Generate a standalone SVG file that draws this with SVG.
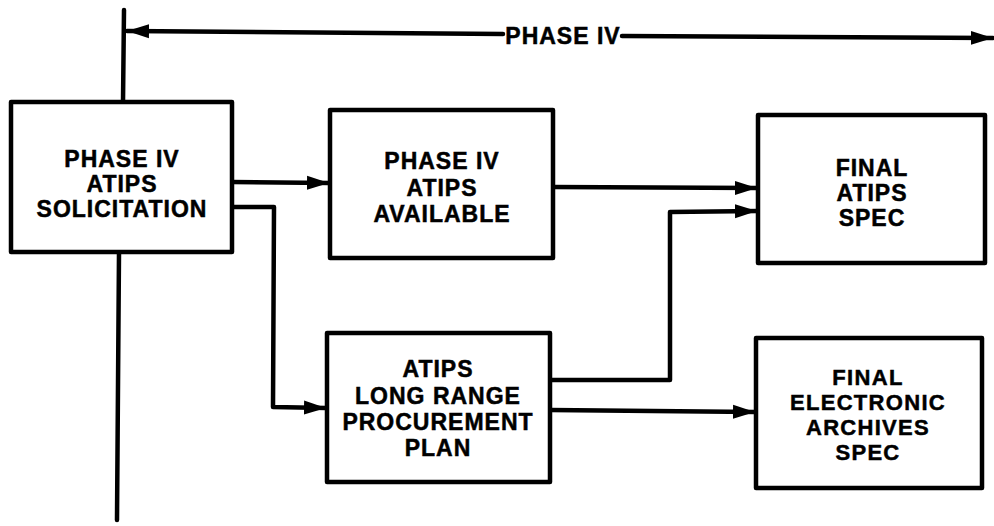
<svg xmlns="http://www.w3.org/2000/svg" width="994" height="526" viewBox="0 0 994 526">
<style>
.box{fill:#fff;stroke:#000;stroke-width:4.5;stroke-linejoin:round}
.lbl{font-family:"Liberation Sans",Arial,sans-serif;font-weight:bold;font-size:23px;letter-spacing:1px;text-anchor:middle;fill:#000;stroke:#000;stroke-width:0.5}
.sm{font-size:22px;letter-spacing:1.3px}
.ln{fill:none;stroke:#000;stroke-width:4.5;stroke-linejoin:round;stroke-linecap:round}
</style>
<defs>
<marker id="ah" markerUnits="userSpaceOnUse" markerWidth="24" markerHeight="16" refX="22" refY="8" orient="auto">
<path d="M0,1 L22,8 L0,15 Z" fill="#000"/>
</marker>
</defs>
<rect width="994" height="526" fill="#fff"/>
<g id="connectors">
<line class="ln" x1="124" y1="10" x2="123" y2="102"/>
<line class="ln" x1="119" y1="252" x2="117" y2="520"/>
<line class="ln" x1="503" y1="34" x2="127" y2="31" marker-end="url(#ah)"/>
<line class="ln" x1="622" y1="36" x2="993" y2="38" marker-end="url(#ah)"/>
<polyline class="ln" points="232,182 329,183" marker-end="url(#ah)"/>
<polyline class="ln" points="232,207 274,207 273,407 326,408" marker-end="url(#ah)"/>
<polyline class="ln" points="553,187 757,188" marker-end="url(#ah)"/>
<polyline class="ln" points="550,380 670,380 670,212 757,211" marker-end="url(#ah)"/>
<polyline class="ln" points="550,410 755,412" marker-end="url(#ah)"/>
</g>
<g id="phase-label">
<text class="lbl" x="563" y="44">PHASE IV</text>
</g>
<g id="n1">
<rect class="box" x="11" y="102" width="221" height="150"/>
<text class="lbl" x="122" y="167">PHASE IV</text>
<text class="lbl" x="122" y="192">ATIPS</text>
<text class="lbl" x="122" y="217">SOLICITATION</text>
</g>
<g id="n2">
<rect class="box" x="330" y="110" width="223" height="148"/>
<text class="lbl" x="442" y="169">PHASE IV</text>
<text class="lbl" x="442" y="196">ATIPS</text>
<text class="lbl" x="442" y="222">AVAILABLE</text>
</g>
<g id="n3">
<rect class="box" x="758" y="115" width="227" height="148"/>
<text class="lbl" x="872" y="176">FINAL</text>
<text class="lbl" x="872" y="201">ATIPS</text>
<text class="lbl" x="872" y="226">SPEC</text>
</g>
<g id="n4">
<rect class="box" x="327" y="333" width="223" height="149"/>
<text class="lbl" x="438" y="377">ATIPS</text>
<text class="lbl" x="438" y="404">LONG RANGE</text>
<text class="lbl" x="438" y="430">PROCUREMENT</text>
<text class="lbl" x="438" y="456">PLAN</text>
</g>
<g id="n5">
<rect class="box" x="756" y="338" width="226" height="150"/>
<text class="lbl sm" x="868" y="385">FINAL</text>
<text class="lbl sm" x="868" y="410">ELECTRONIC</text>
<text class="lbl sm" x="868" y="435">ARCHIVES</text>
<text class="lbl sm" x="868" y="460">SPEC</text>
</g>
</svg>
